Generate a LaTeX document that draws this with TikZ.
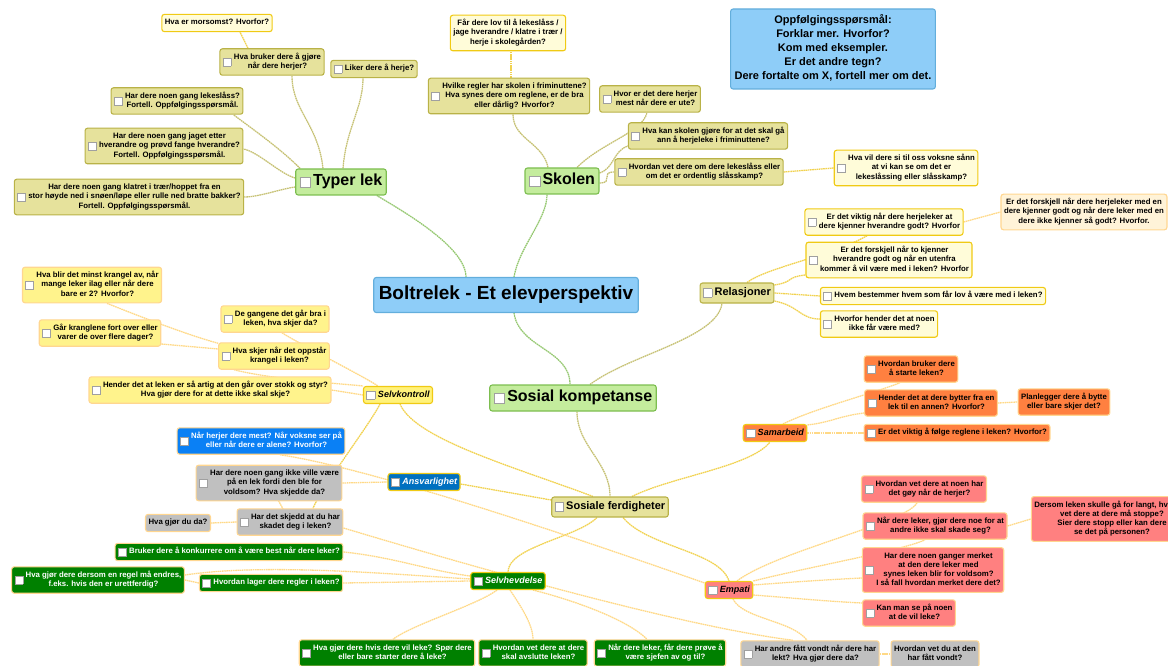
\documentclass[tikz,border=0pt]{standalone}
\usepackage{fontspec}
\setmainfont{Liberation Sans}
\usetikzlibrary{backgrounds}

\definecolor{rootfill}{HTML}{8ECDF8}
\definecolor{rootedge}{HTML}{63AEDC}
\definecolor{topicfill}{HTML}{C4EC9D}
\definecolor{topicedge}{HTML}{7DBE50}
\definecolor{khakifill}{HTML}{E6E29C}
\definecolor{khakiedge}{HTML}{B9B247}
\definecolor{palefill}{HTML}{FFFCD9}
\definecolor{goldedge}{HTML}{F0CA14}
\definecolor{peachfill}{HTML}{FFF3D8}
\definecolor{softedge}{HTML}{FFD690}
\definecolor{selvkfill}{HTML}{FFF27A}
\definecolor{sunfill}{HTML}{FFF38C}
\definecolor{orangefill}{HTML}{FF8040}
\definecolor{salmonfill}{HTML}{FF8080}
\definecolor{grayfill}{HTML}{C0C0C0}
\definecolor{dkgreen}{HTML}{008000}
\definecolor{bluefill}{HTML}{0A80F5}
\definecolor{ansvfill}{HTML}{0070C0}
\definecolor{greenln}{HTML}{96C872}
\definecolor{oliveln}{HTML}{C6C174}
\definecolor{goldln}{HTML}{F1D250}
\definecolor{paleln}{HTML}{FFD987}
\definecolor{chkedge}{HTML}{A0A0A0}

\newcommand\ckbox[1]{\raisebox{\dimexpr0.25em-#1pt/2\relax}{\setlength\fboxsep{0pt}\setlength\fboxrule{0.5pt}\fcolorbox{chkedge}{white}{\rule{0pt}{#1pt}\rule{#1pt}{0pt}}}\hspace{2.5pt}}
\newcommand\qq[2][7.5]{\ckbox{#1}\begin{tabular}{@{}c@{}}#2\end{tabular}}
\newcommand\tx[1]{\begin{tabular}{@{}c@{}}#1\end{tabular}}

\begin{document}
\begin{tikzpicture}[x=1pt, y=-1pt,
    qbox/.style={draw, rounded corners=2.5pt, line width=1.1pt, inner xsep=3pt, inner ysep=4pt,
      font=\bfseries\fontsize{7.8}{9.2}\selectfont},
    rootbox/.style={qbox, fill=rootfill, draw=rootedge, inner xsep=5pt, inner ysep=6pt,
      font=\bfseries\fontsize{19}{23}\selectfont},
    infobox/.style={qbox, fill=rootfill, draw=rootedge, inner xsep=4pt, inner ysep=5pt,
      font=\bfseries\fontsize{11}{14}\selectfont},
    topic/.style={qbox, fill=topicfill, draw=topicedge, inner xsep=4pt, inner ysep=3.5pt,
      font=\bfseries\fontsize{16}{19}\selectfont},
    khaki/.style={qbox, fill=khakifill, draw=khakiedge},
    subtopic/.style={khaki, font=\bfseries\fontsize{11}{13}\selectfont, inner ysep=3.5pt},
    branch/.style={qbox, draw=goldedge, inner ysep=3pt, font=\bfseries\itshape\fontsize{9}{11}\selectfont},
    pale/.style={qbox, fill=palefill, draw=goldedge},
    peach/.style={qbox, fill=peachfill, draw=softedge},
    sunny/.style={qbox, fill=sunfill, draw=softedge},
    orangeq/.style={qbox, fill=orangefill, draw=softedge},
    salmonq/.style={qbox, fill=salmonfill, draw=softedge},
    grayq/.style={qbox, fill=grayfill, draw=softedge},
    greenq/.style={qbox, fill=dkgreen, draw=softedge, text=white},
    blueq/.style={qbox, fill=bluefill, draw=softedge, text=white},
    link/.style={line width=1.3pt, dash pattern=on 1.6pt off 0.6pt},
    greenlink/.style={link, draw=greenln},
    olivelink/.style={link, draw=oliveln},
    goldlink/.style={link, draw=goldln},
    orlink/.style={link, draw=paleln}
  ]
  \useasboundingbox (0,0) rectangle (1168,666);

  \node[rootbox] (root) at (506,295) {\tx{Boltrelek - Et elevperspektiv}};
  \node[infobox] (info) at (833,49) {\tx{Oppfølgingsspørsmål:\\Forklar mer. Hvorfor?\\Kom med eksempler.\\Er det andre tegn?\\Dere fortalte om X, fortell mer om det.}};

  \node[topic] (typer) at (341,182) {\qq[10]{Typer lek}};
  \node[topic] (skolen) at (562,181) {\qq[10]{Skolen}};
  \node[topic] (soskomp) at (573,398) {\qq[10]{Sosial kompetanse}};
  \node[subtopic] (relasjoner) at (737,293) {\qq[8]{Relasjoner}};
  \node[subtopic] (sosfer) at (610,507) {\qq[8]{Sosiale ferdigheter}};

  % Typer lek
  \node[khaki] (tl1) at (272,62) {\qq{Hva bruker dere å gjøre\\når dere herjer?}};
  \node[pale] (tl1a) at (217,23) {\tx{Hva er morsomst? Hvorfor?}};
  \node[khaki] (tl2) at (374,69) {\qq{Liker dere å herje?}};
  \node[khaki] (tl3) at (177,101) {\qq{Har dere noen gang lekeslåss?\\Fortell. Oppfølgingsspørsmål.}};
  \node[khaki] (tl4) at (164,146) {\qq{Har dere noen gang jaget etter\\hverandre og prøvd fange hverandre?\\Fortell. Oppfølgingsspørsmål.}};
  \node[khaki] (tl5) at (129,197) {\qq{Har dere noen gang klatret i trær/hoppet fra en\\stor høyde ned i snøen/løpe eller rulle ned bratte bakker?\\Fortell. Oppfølgingsspørsmål.}};

  % Skolen
  \node[khaki] (sk1) at (509,96) {\qq{Hvilke regler har skolen i friminuttene?\\Hva synes dere om reglene, er de bra\\eller dårlig? Hvorfor?}};
  \node[pale] (sk1a) at (508,33) {\tx{Får dere lov til å lekeslåss /\\jage hverandre / klatre i trær /\\herje i skolegården?}};
  \node[khaki] (sk2) at (650,99) {\qq{Hvor er det dere herjer\\mest når dere er ute?}};
  \node[khaki] (sk3) at (708,136) {\qq{Hva kan skolen gjøre for at det skal gå\\ann å herjeleke i friminuttene?}};
  \node[khaki] (sk4) at (699,172) {\qq{Hvordan vet dere om dere lekeslåss eller\\om det er ordentlig slåsskamp?}};
  \node[pale] (sk4a) at (906,168) {\qq{Hva vil dere si til oss voksne sånn\\at vi kan se om det er\\lekeslåssing eller slåsskamp?}};

  % Relasjoner
  \node[pale] (re1) at (884,222) {\qq{Er det viktig når dere herjeleker at\\dere kjenner hverandre godt? Hvorfor}};
  \node[peach] (re1a) at (1084,212) {\tx{Er det forskjell når dere herjeleker med en\\dere kjenner godt og når dere leker med en\\dere ikke kjenner så godt? Hvorfor.}};
  \node[pale] (re2) at (889,260) {\qq{Er det forskjell når to kjenner\\hverandre godt og når en utenfra\\kommer å vil være med i leken? Hvorfor}};
  \node[pale] (re3) at (933,296) {\qq{Hvem bestemmer hvem som får lov å være med i leken?}};
  \node[pale] (re4) at (879,324) {\qq{Hvorfor hender det at noen\\ikke får være med?}};

  % Sosiale ferdigheter
  \node[branch, fill=selvkfill] (selvk) at (398,395) {\qq[8]{Selvkontroll}};
  \node[branch, fill=ansvfill, text=white] (ansv) at (424,482) {\qq[8]{Ansvarlighet}};
  \node[branch, fill=dkgreen, text=white] (selvh) at (508,581) {\qq[8]{Selvhevdelse}};
  \node[branch, fill=orangefill] (samarb) at (775,433) {\qq[8]{Samarbeid}};
  \node[branch, fill=salmonfill] (empati) at (729,590) {\qq[8]{Empati}};

  \node[sunny] (sv1) at (274,356) {\qq{Hva skjer når det oppstår\\krangel i leken?}};
  \node[sunny] (sv1a) at (92,285) {\qq{Hva blir det minst krangel av, når\\mange leker ilag eller når dere\\bare er 2? Hvorfor?}};
  \node[sunny] (sv1b) at (100,333) {\qq{Går kranglene fort over eller\\varer de over flere dager?}};
  \node[sunny] (sv2) at (275,319) {\qq{De gangene det går bra i\\leken, hva skjer da?}};
  \node[sunny] (sv3) at (210,390) {\qq{Hender det at leken er så artig at den går over stokk og styr?\\Hva gjør dere for at dette ikke skal skje?}};

  \node[blueq] (blue1) at (261,441) {\qq{Når herjer dere mest? Når voksne ser på\\eller når dere er alene? Hvorfor?}};
  \node[grayq] (gray1) at (269,483) {\qq{Har dere noen gang ikke ville være\\på en lek fordi den ble for\\voldsom? Hva skjedde da?}};
  \node[grayq] (gray2) at (290,522) {\qq{Har det skjedd at du har\\skadet deg i leken?}};
  \node[grayq] (gray2a) at (178,523) {\tx{Hva gjør du da?}};

  \node[greenq] (sh1) at (229,552) {\qq{Bruker dere å konkurrere om å være best når dere leker?}};
  \node[greenq] (sh2) at (271,583) {\qq{Hvordan lager dere regler i leken?}};
  \node[greenq] (sh2a) at (98,580) {\qq{Hva gjør dere dersom en regel må endres,\\f.eks. hvis den er urettferdig?}};
  \node[greenq] (sh3) at (387,653) {\qq{Hva gjør dere hvis dere vil leke? Spør dere\\eller bare starter dere å leke?}};
  \node[greenq] (sh4) at (533,653) {\qq{Hvordan vet dere at dere\\skal avslutte leken?}};
  \node[greenq] (sh5) at (660,653) {\qq{Når dere leker, får dere prøve å\\være sjefen av og til?}};

  \node[orangeq] (sa1) at (911,369) {\qq{Hvordan bruker dere\\å starte leken?}};
  \node[orangeq] (sa2) at (931,403) {\qq{Hender det at dere bytter fra en\\lek til en annen? Hvorfor?}};
  \node[orangeq] (sa2a) at (1064,402) {\tx{Planlegger dere å bytte\\eller bare skjer det?}};
  \node[orangeq] (sa3) at (957,433) {\qq{Er det viktig å følge reglene i leken? Hvorfor?}};

  \node[salmonq] (em1) at (924,489) {\qq{Hvordan vet dere at noen har\\det gøy når de herjer?}};
  \node[salmonq] (em2) at (935,526) {\qq{Når dere leker, gjør dere noe for at\\andre ikke skal skade seg?}};
  \node[salmonq] (em2a) at (1112,519) {\tx{Dersom leken skulle gå for langt, hvordan\\vet dere at dere må stoppe?\\Sier dere stopp eller kan dere\\se det på personen?}};
  \node[salmonq] (em3) at (933,570) {\qq{Har dere noen ganger merket\\at den dere leker med\\synes leken blir for voldsom?\\I så fall hvordan merket dere det?}};
  \node[salmonq] (em4) at (909,613) {\qq{Kan man se på noen\\at de vil leke?}};
  \node[grayq] (em5) at (810,654) {\qq{Har andre fått vondt når dere har\\lekt? Hva gjør dere da?}};
  \node[grayq] (em5a) at (935,654) {\tx{Hvordan vet du at den\\har fått vondt?}};

  \begin{scope}[on background layer]
    \draw[greenlink] ([xshift=-40pt]root.north) .. controls +(0,-30) and +(25,15) .. ([xshift=-10pt]typer.south east);
    \draw[greenlink] ([xshift=8pt]root.north) .. controls +(5,-30) and +(0,25) .. ([xshift=-15pt]skolen.south);
    \draw[greenlink] ([xshift=8pt]root.south) .. controls +(5,35) and +(0,-35) .. ([xshift=-3pt]soskomp.north);
    \draw[olivelink] ([xshift=17pt]soskomp.north) .. controls +(40,-30) and +(-5,35) .. ([xshift=-15pt]relasjoner.south);
    \draw[olivelink] ([xshift=4pt]soskomp.south) .. controls +(0,35) and +(0,-35) .. (sosfer.north);

    \draw[olivelink] ([xshift=-18pt]typer.north) .. controls +(-5,-45) and +(0,35) .. ([xshift=20pt]tl1.south);
    \draw[olivelink] ([xshift=2pt]typer.north) .. controls +(3,-40) and +(0,30) .. ([xshift=-11pt]tl2.south);
    \draw[olivelink] ([xshift=5pt]typer.north west) .. controls +(-20,-20) and +(20,15) .. ([xshift=-10pt]tl3.south east);
    \draw[olivelink] ([yshift=4pt]typer.west) .. controls +(-15,-4) and +(15,3) .. ([yshift=-3pt]tl4.east);
    \draw[olivelink] ([yshift=-5pt]typer.west) .. controls +(-15,2) and +(15,0) .. (tl5.east);
    \draw[goldlink] ([xshift=-24pt]tl1.north) -- ([xshift=23pt]tl1a.south);

    \draw[olivelink] ([xshift=-14pt]skolen.north) .. controls +(-5,-25) and +(0,25) .. ([xshift=4pt]sk1.south);
    \draw[olivelink] ([xshift=15pt]skolen.north) .. controls +(25,-25) and +(-5,20) .. ([xshift=-3pt]sk2.south);
    \draw[olivelink] ([yshift=8pt]skolen.east) .. controls +(15,-5) and +(-15,5) .. ([yshift=-10pt]sk3.west);
    \draw[olivelink] ([yshift=-2pt]skolen.east) .. controls +(15,0) and +(-15,0) .. (sk4.west);
    \draw[goldlink] ([xshift=2pt]sk1.north) -- ([xshift=3pt]sk1a.south);
    \draw[goldlink] (sk4.east) -- (sk4a.west);

    \draw[goldlink] ([xshift=10pt]relasjoner.north) .. controls +(20,-15) and +(-35,20) .. ([xshift=-17pt]re1.south);
    \draw[goldlink] ([yshift=8pt]relasjoner.east) .. controls +(20,-3) and +(-20,2) .. ([yshift=-15pt]re2.west);
    \draw[goldlink] (relasjoner.east) -- (re3.west);
    \draw[goldlink] ([yshift=-8pt]relasjoner.east) .. controls +(25,5) and +(-20,0) .. ([yshift=5pt]re4.west);
    \draw[orlink] (re1.east) -- (re1a.west);

    \draw[goldlink] ([xshift=-17pt]sosfer.north) .. controls +(-80,-30) and +(15,35) .. ([xshift=2pt]selvk.south);
    \draw[goldlink] ([yshift=7pt]sosfer.west) -- ([yshift=-2pt]ansv.east);
    \draw[goldlink] ([xshift=22pt]sosfer.north) .. controls +(40,-20) and +(-20,25) .. ([xshift=-5pt]samarb.south);
    \draw[goldlink] ([xshift=-13pt]sosfer.south) .. controls +(-20,20) and +(0,-25) .. (selvh.north);
    \draw[goldlink] ([xshift=13pt]sosfer.south) .. controls +(25,30) and +(-10,-30) .. (empati.north);

    \draw[orlink] ([xshift=7pt]sv2.south) .. controls +(15,10) and +(-15,-10) .. ([xshift=-20pt]selvk.north);
    \draw[orlink] ([xshift=-40pt]sv1.south) .. controls +(40,10) and +(-30,-3) .. (selvk.north west);
    \draw[orlink] ([xshift=15pt]sv1a.south) .. controls +(30,12) and +(-30,-8) .. ([yshift=-1pt]sv1.north west);
    \draw[orlink] ([yshift=-11pt]sv1b.east) -- ([yshift=7pt]sv1.west);
    \draw[orlink] (sv3.east) -- (selvk.west);
    \draw[goldlink] ([xshift=-18pt]selvk.south) .. controls +(-10,20) and +(8,-20) .. ([xshift=23pt]gray2.north);

    \draw[orlink] ([xshift=19pt]blue1.south) .. controls +(100,15) and +(-100,-35) .. ([yshift=7pt]empati.west);
    \draw[orlink] (gray1.east) -- (ansv.west);
    \draw[orlink] (gray1.center) -- (gray2.center);
    \draw[orlink] (gray2.west) -- (gray2a.east);
    \draw[orlink] ([yshift=-6pt]gray2.east) .. controls +(100,30) and +(-120,-15) .. ([xshift=-17pt]em5.north);

    \draw[orlink] (sh1.east) .. controls +(50,5) and +(-40,-5) .. ([yshift=5pt]selvh.west);
    \draw[orlink] ([yshift=5pt]sh2a.east) .. controls +(80,-12) and +(-80,-5) .. ([yshift=2pt]selvh.west);
    \draw[orlink] (sh2.east) -- (selvh.west);
    \draw[orlink] (sh2.west) -- (sh2a.east);
    \draw[orlink] ([xshift=-11pt]selvh.south) .. controls +(-20,15) and +(20,-15) .. ([xshift=6pt]sh3.north);
    \draw[orlink] ([xshift=2pt]selvh.south) .. controls +(10,15) and +(0,-15) .. (sh4.north);
    \draw[orlink] ([xshift=25pt]selvh.south) .. controls +(40,10) and +(-20,-20) .. ([xshift=-13pt]sh5.north);

    \draw[orlink] ([xshift=8pt]samarb.north) .. controls +(30,-15) and +(-25,10) .. ([xshift=-11pt]sa1.south);
    \draw[orlink] ([yshift=8pt]samarb.east) .. controls +(25,-3) and +(-25,3) .. ([yshift=-10pt]sa2.west);
    \draw[orlink] (samarb.east) -- (sa3.west);
    \draw[orlink] (sa2.east) -- (sa2a.west);

    \draw[orlink] ([xshift=8pt]empati.north) .. controls +(40,-30) and +(-10,20) .. ([xshift=-7pt]em1.south);
    \draw[orlink] ([yshift=9pt]empati.east) .. controls +(60,-15) and +(-20,10) .. ([xshift=-10pt]em2.south);
    \draw[orlink] ([yshift=5pt]empati.east) .. controls +(40,-3) and +(-40,2) .. ([yshift=-8pt]em3.west);
    \draw[orlink] ([yshift=-5pt]empati.east) .. controls +(40,3) and +(-40,-2) .. ([yshift=10pt]em4.west);
    \draw[orlink] ([xshift=4pt]empati.south) .. controls +(10,20) and +(-15,-20) .. ([xshift=-3pt]em5.north);
    \draw[orlink] (em2.east) -- (em2a.west);
    \draw[orlink] (em5.east) -- (em5a.west);
  \end{scope}
\end{tikzpicture}
\end{document}
